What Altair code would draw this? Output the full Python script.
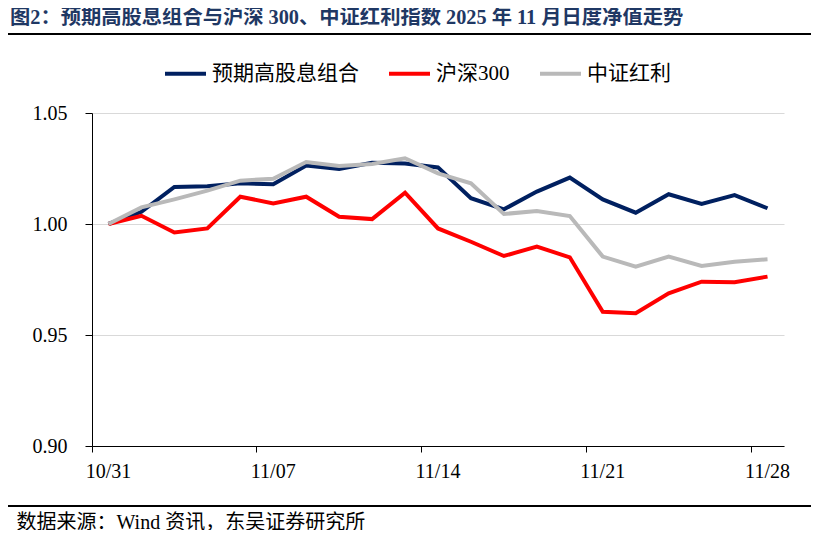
import altair as alt
import pandas as pd

dates = ["10/31", "11/03", "11/04", "11/05", "11/06", "11/07",
         "11/10", "11/11", "11/12", "11/13", "11/14",
         "11/17", "11/18", "11/19", "11/20", "11/21",
         "11/24", "11/25", "11/26", "11/27", "11/28"]

series_names = ["预期高股息组合", "沪深300", "中证红利"]
series_colors = ["#002060", "#FF0000", "#B9B9B9"]

high_div = [1.000, 1.0055, 1.0167, 1.0170, 1.0183, 1.0179, 1.0263, 1.0248, 1.0276, 1.0273, 1.0255,
            1.0116, 1.0066, 1.0146, 1.0209, 1.0111, 1.0051, 1.0134, 1.0090, 1.0130, 1.0071]
hs300 = [1.000, 1.0037, 0.9962, 0.9980, 1.0123, 1.0093, 1.0123, 1.0033, 1.0022, 1.0141, 0.9980,
         0.9920, 0.9856, 0.9898, 0.9850, 0.9605, 0.9598, 0.9688, 0.9740, 0.9738, 0.9763]
csi_div = [1.000, 1.0075, 1.0111, 1.0150, 1.0195, 1.0204, 1.0279, 1.0261, 1.0270, 1.0296, 1.0228,
           1.0183, 1.0045, 1.0059, 1.0036, 0.9853, 0.9808, 0.9853, 0.9811, 0.9830, 0.9841]

x_labels = ["10/31", "11/07", "11/14", "11/21", "11/28"]
y_ticks = [0.90, 0.95, 1.00, 1.05]

title_text = "图2：预期高股息组合与沪深 300、中证红利指数 2025 年 11 月日度净值走势"
source_text = "数据来源：Wind 资讯，东吴证券研究所"

rows = []
for name, vals in zip(series_names, [high_div, hs300, csi_div]):
    for d, v in zip(dates, vals):
        rows.append({"date": d, "value": v, "series": name})
df = pd.DataFrame(rows)

W, H = 692, 333
FONT = "Liberation Serif, Times New Roman, Noto Sans CJK SC"

lines = alt.Chart(df).mark_line(strokeWidth=4, strokeJoin="miter").encode(
    x=alt.X("date:O", sort=dates,
            scale=alt.Scale(type="band", paddingInner=0, paddingOuter=0),
            axis=alt.Axis(values=x_labels, bandPosition=0,
                          labelAngle=0, tickSize=6, tickColor="black", domainColor="black",
                          labelFont=FONT, labelFontSize=20, labelColor="black", labelPadding=9,
                          title=source_text, titleAnchor="start", titleAlign="left",
                          titleX=-76, titleY=76, titleBaseline="middle", titleLimit=2000,
                          titleFont=FONT, titleFontSize=20, titleFontWeight="normal",
                          titleColor="black", grid=False)),
    y=alt.Y("value:Q",
            scale=alt.Scale(domain=[0.90, 1.05], nice=False, zero=False),
            axis=alt.Axis(values=y_ticks, format=".2f", grid=True, gridColor="#d9d9d9",
                          tickSize=7, tickColor="black", domainColor="black",
                          labelFont=FONT, labelFontSize=20, labelColor="black",
                          labelPadding=18, title=None)),
    color=alt.Color("series:N",
                    scale=alt.Scale(domain=series_names, range=series_colors),
                    legend=alt.Legend(orient="none", legendX=71, legendY=-62,
                                      direction="horizontal", title=None,
                                      symbolType="stroke", symbolSize=1681,
                                      symbolStrokeWidth=4, labelOffset=4,
                                      columnPadding=22, labelFont=FONT, labelLimit=400,
                                      labelFontSize=21, labelColor="black")),
)

rule_data = pd.DataFrame({"k": [0]})
top_rule = alt.Chart(rule_data).mark_rule(color="black", strokeWidth=2).encode(
    x=alt.value(-87), x2=alt.value(730), y=alt.value(-79))
bottom_rule = alt.Chart(rule_data).mark_rule(color="black", strokeWidth=2).encode(
    x=alt.value(-87), x2=alt.value(730), y=alt.value(393))

chart = alt.layer(lines, top_rule, bottom_rule).properties(
    width=W, height=H,
    autosize=alt.AutoSizeParams(type="none"),
    padding={"left": 84, "top": 105, "right": 27, "bottom": 84},
    title=alt.TitleParams(title_text, anchor="start", frame="group", dx=-82,
                          offset=5, font=FONT, fontSize=20.3, fontWeight="bold",
                          limit=2000, color="#1F3864"),
).configure_view(stroke=None)

chart.save("out.html", embed_options={"renderer": "svg", "actions": False})
